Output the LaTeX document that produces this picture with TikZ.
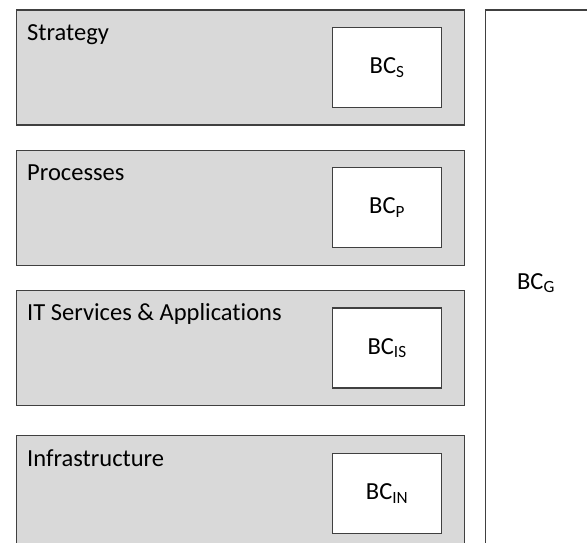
\documentclass[tikz,border=0pt]{standalone}
\usepackage{fontspec}
\setmainfont{Carlito}[Ligatures=NoCommon]
\usepackage{xcolor}
\usetikzlibrary{positioning}

\definecolor{layergray}{HTML}{D9D9D9}
\definecolor{edgegray}{HTML}{404040}

\begin{document}
\begin{tikzpicture}[x=1pt,y=1pt,node distance=24pt,
                    every node/.style={font=\fontsize{24.5}{29}\selectfont},
                    layer/.style={draw=edgegray,fill=layergray,line width=1.2pt,
                      minimum width=448pt,minimum height=115pt,inner sep=0pt},
                    bcbox/.style={draw=edgegray,fill=white,line width=1.2pt,
                      minimum width=109pt,minimum height=80pt,inner sep=0pt,
                      anchor=north east},
                    title/.style={anchor=base west,inner sep=0pt}]
  \useasboundingbox (0,0) rectangle (587,-543);
  \clip (0,0) rectangle (587,-543);

  % the four layers
  \node[layer,anchor=north west] (strat) at (16,-9.5) {};
  \node[layer] (proc)  [below=of strat] {};
  \node[layer] (itsvc) [below=of proc] {};
  \node[layer] (infra) [below=29pt of itsvc] {};

  % layer titles
  \node[title] (stratT) at ([xshift=11pt,yshift=-31pt]strat.north west) {Strategy};
  \node[title] (procT)  at ([xshift=11pt,yshift=-31pt]proc.north west)  {Processes};
  \node[title] (itsvcT) at ([xshift=11pt,yshift=-31pt]itsvc.north west) {IT Services \& Applications};
  \node[title] (infraT) at ([xshift=11pt,yshift=-31pt]infra.north west) {Infrastructure};

  % building blocks
  \node[bcbox] (bcS)  at ([xshift=-23pt,yshift=-17.5pt]strat.north east) {BC\textsubscript{S}};
  \node[bcbox] (bcP)  at ([xshift=-23pt,yshift=-17.5pt]proc.north east)  {BC\textsubscript{P}};
  \node[bcbox] (bcIS) at ([xshift=-23pt,yshift=-17.5pt]itsvc.north east) {BC\textsubscript{IS}};
  \node[bcbox] (bcIN) at ([xshift=-23pt,yshift=-17.5pt]infra.north east) {BC\textsubscript{IN}};

  % governance column
  \node[draw=edgegray,line width=1.2pt,minimum width=110pt,minimum height=548pt,
        inner sep=0pt,anchor=north west] (bcG) at (485,-9.5) {};
  \node (bcGT) at (536,-283) {BC\textsubscript{G}};
\end{tikzpicture}
\end{document}
